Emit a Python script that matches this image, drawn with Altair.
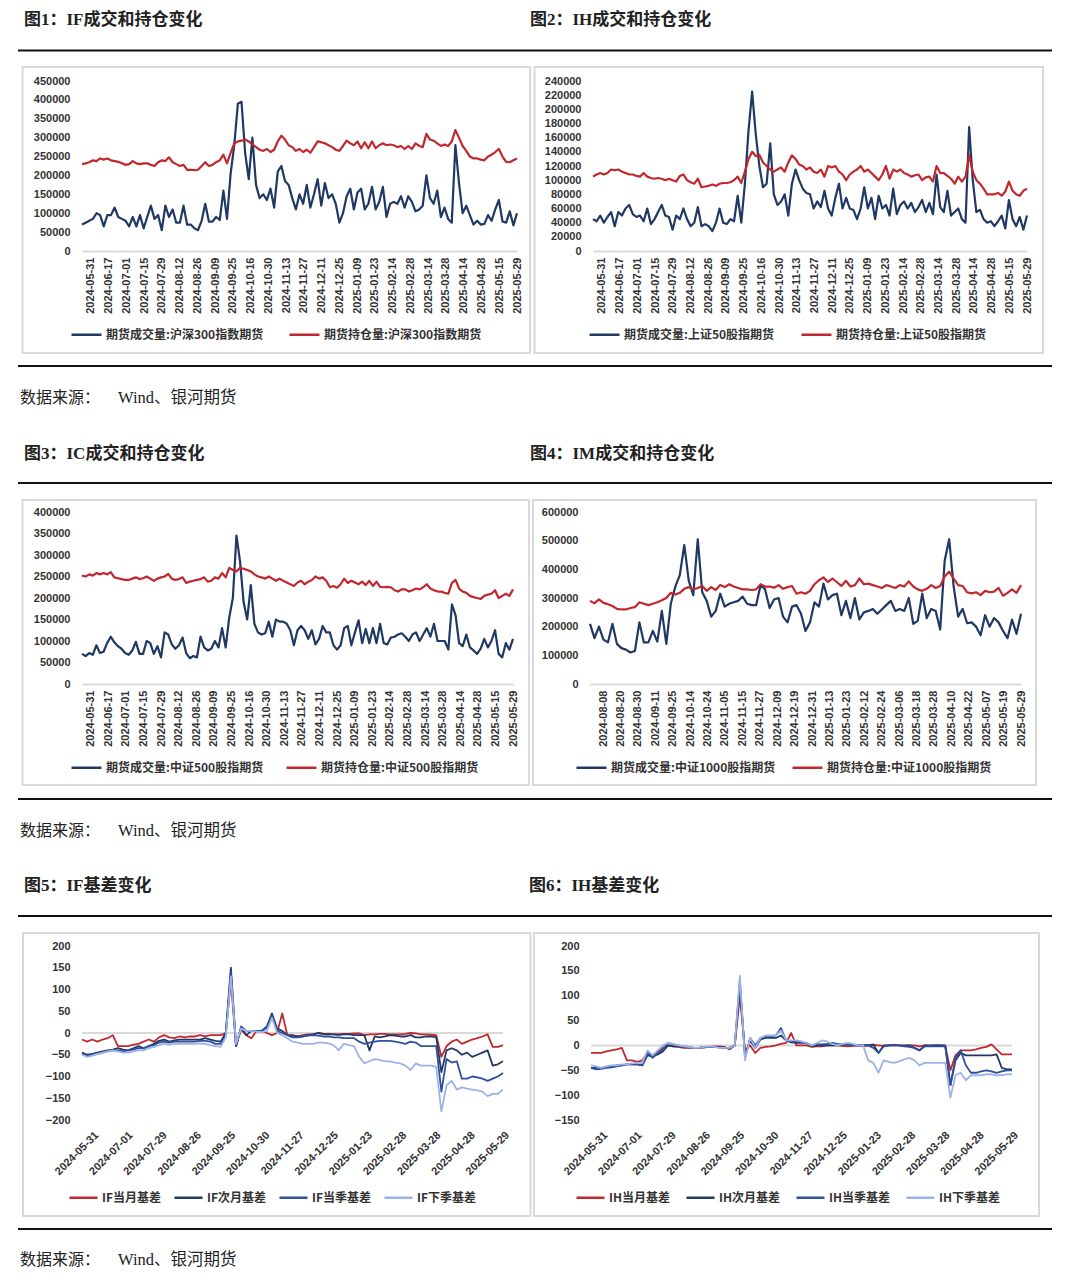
import altair as alt
import numpy as np
import pandas as pd

# ---------------- tick labels ----------------
LBL_MAIN = ["2024-05-31", "2024-06-17", "2024-07-01", "2024-07-15", "2024-07-29", "2024-08-12",
            "2024-08-26", "2024-09-09", "2024-09-25", "2024-10-16", "2024-10-30", "2024-11-13",
            "2024-11-27", "2024-12-11", "2024-12-25", "2025-01-09", "2025-01-23", "2025-02-14",
            "2025-02-28", "2025-03-14", "2025-03-28", "2025-04-14", "2025-04-28", "2025-05-15",
            "2025-05-29"]
LBL_IM = ["2024-08-08", "2024-08-20", "2024-08-30", "2024-09-11", "2024-09-25", "2024-10-14",
          "2024-10-24", "2024-11-05", "2024-11-15", "2024-11-27", "2024-12-09", "2024-12-19",
          "2024-12-31", "2025-01-13", "2025-01-23", "2025-02-12", "2025-02-24", "2025-03-06",
          "2025-03-18", "2025-03-28", "2025-04-10", "2025-04-22", "2025-05-07", "2025-05-19",
          "2025-05-29"]
LBL_BASIS = ["2024-05-31", "2024-07-01", "2024-07-29", "2024-08-26", "2024-09-25", "2024-10-30",
             "2024-11-27", "2024-12-25", "2025-01-23", "2025-02-28", "2025-03-28", "2025-04-28",
             "2025-05-29"]

# ---------------- series (thousand lots for volume / open interest) ----------------
IF_VOL = [70, 75, 80, 85, 100, 95, 65, 95, 95, 115,
          90, 85, 80, 65, 90, 65, 95, 60, 90, 120,
          85, 95, 55, 120, 90, 110, 75, 75, 120, 70,
          70, 60, 55, 80, 125, 78, 78, 90, 82, 160,
          85, 205, 280, 390, 395, 260, 190, 300, 175, 140,
          150, 135, 165, 115, 210, 225, 185, 175, 140, 110,
          150, 125, 175, 115, 150, 190, 120, 180, 140, 150,
          125, 75, 100, 145, 165, 110, 155, 165, 110, 125,
          170, 110, 130, 170, 90, 125, 130, 125, 145, 115,
          145, 130, 105, 110, 120, 200, 140, 125, 160, 90,
          115, 85, 75, 280, 180, 100, 120, 95, 70, 80,
          70, 72, 95, 80, 110, 135, 78, 75, 105, 68,
          100]
IF_OI = [230, 232, 235, 240, 238, 245, 242, 245, 240, 238,
         236, 232, 228, 230, 238, 232, 230, 232, 232, 228,
         225, 235, 240, 238, 248, 235, 230, 225, 228, 215,
         215, 214, 215, 225, 235, 225, 228, 235, 240, 255,
         232, 260, 285, 290, 292, 295, 290, 282, 275, 268,
         265, 270, 262, 268, 290, 305, 295, 280, 275, 265,
         270, 262, 268, 260, 275, 290, 288, 285, 280, 275,
         268, 265, 278, 292, 285, 280, 290, 272, 288, 272,
         290, 272, 280, 285, 280, 282, 280, 275, 278, 270,
         278, 270, 285, 278, 275, 310, 295, 292, 285, 278,
         282, 278, 290, 320, 300, 278, 265, 250, 245, 245,
         242, 240, 250, 255, 262, 270, 250, 236, 235, 240,
         245]
IH_VOL = [45, 42, 50, 40, 48, 55, 35, 55, 50, 60,
          65, 52, 48, 50, 42, 60, 38, 45, 55, 65,
          50, 48, 30, 50, 45, 60, 45, 35, 40, 62,
          35, 38, 35, 28, 40, 60, 40, 38, 45, 42,
          78, 40, 95, 170, 225, 165, 120, 90, 95, 152,
          80, 65, 70, 80, 50, 95, 115, 100, 88, 82,
          80, 60, 70, 62, 85, 60, 50, 75, 95, 60,
          75, 60, 58, 45, 60, 90, 60, 75, 45, 78,
          60, 65, 50, 88, 52, 65, 70, 60, 68, 55,
          62, 72, 55, 68, 52, 108, 62, 55, 85, 50,
          55, 60, 45, 40, 175, 100, 55, 58, 45, 40,
          42, 35, 42, 50, 32, 72, 45, 35, 48, 30,
          50]
IH_OI = [105, 108, 110, 108, 110, 115, 114, 115, 112, 110,
         108, 108, 106, 105, 110, 105, 103, 102, 103, 102,
         100, 102, 100, 98, 106, 108, 100, 97, 95, 102,
         90, 91, 92, 94, 92, 95, 96, 96, 97, 100,
         105, 96, 112, 130, 140, 134, 136, 125, 120, 115,
         112, 115, 118, 112, 125, 135, 130, 122, 120, 115,
         118, 112, 110, 115, 105, 120, 118, 120, 112, 108,
         100, 108, 112, 115, 120, 112, 115, 110, 105, 100,
         108, 120, 102, 115, 112, 115, 110, 108, 105, 107,
         108, 100, 104, 105, 98, 120, 110, 110, 106, 102,
         95, 105, 98, 105, 135, 112, 100, 95, 88, 80,
         80, 80, 82, 78, 84, 98, 85, 80, 78, 85,
         88]
IC_VOL = [70, 65, 72, 68, 90, 72, 75, 95, 110, 97,
          88, 82, 72, 68, 78, 98, 70, 70, 100, 95,
          70, 88, 62, 120, 115, 92, 82, 90, 108, 72,
          60, 65, 62, 110, 85, 78, 82, 100, 85, 130,
          85, 155, 200, 345, 285, 190, 150, 230, 140, 120,
          115, 118, 145, 110, 150, 145, 145, 140, 125, 90,
          125, 135, 125, 105, 125, 92, 105, 135, 120, 120,
          90, 80, 90, 130, 135, 90, 120, 148, 95, 128,
          95, 130, 95, 140, 95, 92, 108, 110, 115, 118,
          110, 100, 115, 120, 100, 115, 130, 110, 140, 100,
          100, 100, 80, 185, 160, 95, 88, 115, 85, 78,
          70, 82, 105, 85, 100, 125, 70, 62, 95, 80,
          105]
IC_OI = [252, 250, 255, 252, 258, 255, 258, 255, 260, 248,
         246, 244, 242, 242, 245, 248, 244, 246, 250, 245,
         240, 245, 248, 250, 256, 245, 242, 244, 248, 235,
         238, 240, 242, 244, 248, 238, 240, 248, 245, 258,
         248, 270, 265, 262, 270, 268, 265, 262, 255, 250,
         248, 245, 250, 245, 240, 245, 240, 236, 232, 228,
         236, 240, 232, 238, 242, 250, 245, 248, 240, 225,
         228, 224, 232, 245, 235, 240, 236, 232, 238, 230,
         240, 228, 238, 226, 225, 226, 225, 218, 215, 220,
         220, 215, 218, 222, 220, 225, 232, 222, 218, 215,
         215, 212, 210, 235, 242, 222, 215, 212, 205, 202,
         200, 198, 205, 208, 210, 218, 200, 205, 210, 205,
         220]
IM_VOL = [210, 160, 200, 155, 145, 210, 140, 125, 120, 110,
          115, 215, 145, 145, 185, 148, 255, 140, 280, 340,
          380, 485, 360, 310, 505, 320, 290, 235, 255, 315,
          270, 280, 285, 290, 305, 280, 275, 275, 345, 330,
          265, 295, 300, 235, 215, 270, 275, 245, 185, 215,
          285, 270, 350, 295, 310, 315, 240, 290, 230, 300,
          225, 250, 255, 262, 245, 260, 275, 290, 255, 262,
          255, 300, 210, 220, 315, 230, 262, 255, 190, 430,
          505, 340, 235, 262, 212, 215, 200, 170, 240, 200,
          230, 215, 185, 160, 225, 175, 245]
IM_OI = [290, 282, 295, 283, 278, 272, 262, 260, 260, 265,
         268, 285, 280, 275, 280, 285, 292, 300, 318, 312,
         318, 332, 338, 330, 335, 342, 325, 338, 328, 345,
         338, 348, 340, 335, 330, 330, 328, 330, 348, 340,
         340, 336, 345, 332, 338, 342, 315, 320, 315, 325,
         348, 362, 372, 356, 368, 355, 342, 360, 340, 345,
         368, 348, 350, 345, 340, 335, 345, 340, 335, 345,
         340, 358, 340, 330, 325, 332, 345, 335, 342, 375,
         392, 368, 345, 342, 320, 316, 320, 310, 325, 320,
         322, 335, 308, 318, 330, 318, 345]

IF_B1 = [-15, -20, -15, -20, -15, -12, -5, -30, -30, -30,
         -27, -25, -20, -15, -20, -10, -5, -10, -12, -8,
         -10, -8, -8, -5, -8, -5, -5, -5, 0, 120,
         -30, 8, -5, -12, 5, 5, 0, -5, 0, 45,
         -5, -5, -8, -5, -3, -3, 0, -2, -2, -3,
         -3, -2, -2, -1, -1, -5, -3, -3, -2, -2,
         -3, -3, -3, -2, 0, -1, -3, -3, -4, -5,
         -55, -30, -20, -15, -25, -20, -15, -12, -8, -3,
         -32, -32, -28]
IF_B2 = [-45, -50, -48, -45, -42, -40, -38, -35, -38, -40,
         -35, -30, -35, -30, -25, -18, -15, -20, -17, -15,
         -15, -15, -15, -15, -12, -15, -18, -20, 0, 150,
         -30, 12, -5, 5, 5, 5, 15, 45, 10, 5,
         -5, -6, -8, -8, -5, -3, 0, -2, -3, -3,
         -4, -3, -3, -5, -5, -5, -40, -8, -10, -8,
         -5, -6, -8, -8, -5, -10, -10, -8, -8, -10,
         -90, -40, -35, -40, -50, -45, -55, -50, -45, -40,
         -75, -72, -65]
IF_B3 = [-48, -52, -50, -48, -45, -42, -40, -40, -42, -40,
         -38, -35, -35, -30, -28, -22, -20, -22, -20, -20,
         -20, -20, -20, -18, -18, -20, -25, -25, -5, 140,
         -30, 15, 5, 5, 5, 5, 12, 40, 5, 0,
         -5, -10, -10, -8, -6, -5, -6, -8, -8, -10,
         -10, -12, -12, -12, -20, -25, -22, -20, -18, -18,
         -18, -20, -22, -25, -20, -22, -30, -30, -30, -30,
         -135, -60, -68, -65, -105, -105, -100, -102, -105, -110,
         -105, -100, -92]
IF_B4 = [-50, -55, -52, -48, -45, -42, -40, -42, -45, -45,
         -42, -40, -40, -35, -32, -28, -25, -27, -25, -25,
         -25, -25, -25, -24, -25, -28, -30, -32, -10, 130,
         -25, 10, 5, 5, 3, 2, 5, 35, 0, -5,
         -12, -20, -22, -25, -25, -25, -22, -22, -24, -28,
         -40, -25, -28, -30, -55, -70, -65, -60, -62, -65,
         -65, -68, -70, -75, -85, -70, -75, -75, -75, -78,
         -180, -120, -110, -130, -125, -128, -130, -132, -135, -145,
         -140, -140, -130]
IH_B1 = [-15, -15, -15, -12, -10, -8, -5, -30, -30, -33,
         -30, -15, -20, -12, -5, 0, -2, -3, -5, -5,
         -5, -5, -3, -3, -2, -2, -3, -8, 0, 100,
         -10, 0, -15, -5, -3, -2, 0, 3, 5, 25,
         0, 0, 0, -3, -2, -2, 0, 0, 0, -1,
         -2, -1, 0, -1, 0, 1, 0, -1, 0, 1,
         0, -1, 0, 0, -2, 0, -1, 0, 0, -1,
         -50, -20, -10, -10, -10, -8, -5, -3, 2, -8,
         -18, -18, -18]
IH_B2 = [-45, -45, -45, -43, -42, -40, -40, -38, -38, -38,
         -40, -20, -22, -18, -12, 0, -2, -2, -3, -4,
         -5, -5, -4, -3, -3, -4, -5, -5, 0, 120,
         -20, 10, -5, 12, 15, 15, 15, 20, 10, 6,
         5, 5, 5, -2, 0, 0, 0, 0, 0, 1,
         2, 1, 0, 0, 0, 2, -15, 0, 0, 0,
         0, 0, 0, -5, -10, 0, 0, 0, 0, 0,
         -80, -30, -15, -20, -20, -20, -20, -20, -20, -18,
         -45, -48, -48]
IH_B3 = [-45, -48, -47, -45, -44, -42, -40, -38, -38, -38,
         -40, -15, -25, -15, -8, 5, 2, 0, -2, -3,
         -5, -5, -4, -3, -3, -4, -5, -5, 0, 130,
         -25, 15, 0, 15, 18, 18, 20, 35, 10, 8,
         8, 6, 5, 0, 2, 2, 3, 5, 3, 2,
         2, 0, 0, 0, 0, -5, -15, -2, 0, 0,
         0, -2, -3, -5, -10, -2, -2, -2, -2, -2,
         -80, -25, -10, -40, -55, -55, -52, -50, -52, -55,
         -52, -50, -50]
IH_B4 = [-40, -42, -45, -42, -40, -40, -38, -38, -36, -35,
         -35, -10, -20, -10, 0, 5, 3, 0, -2, -3,
         -5, -5, -3, -2, -3, -5, -5, -5, 0, 140,
         -30, 15, -5, 15, 20, 20, 20, 30, 10, 10,
         10, 8, 5, 0, 5, 10, 8, 3, 0, 3,
         5, 3, 0, 0, -30, -35, -55, -30, -33, -35,
         -32, -28, -25, -30, -40, -35, -35, -35, -35, -35,
         -105, -60, -55, -70, -60, -60, -60, -58, -58, -60,
         -60, -58, -58]

NAMES_IF = ["期货成交量:沪深300指数期货", "期货持仓量:沪深300指数期货"]
NAMES_IH = ["期货成交量:上证50股指期货", "期货持仓量:上证50股指期货"]
NAMES_IC = ["期货成交量:中证500股指期货", "期货持仓量:中证500股指期货"]
NAMES_IM = ["期货成交量:中证1000股指期货", "期货持仓量:中证1000股指期货"]
NAMES_IFB = ["IF当月基差", "IF次月基差", "IF当季基差", "IF下季基差"]
NAMES_IHB = ["IH当月基差", "IH次月基差", "IH当季基差", "IH下季基差"]

NAVY = "#203864"
RED = "#C0282D"
MID = "#2F4F9F"
LIGHT = "#9DB3E8"
GREY = "#D9D9D9"
AX_FONT = "Liberation Sans"
CJK = "Noto Sans CJK SC"
HEAD_FONT = "Liberation Serif, Noto Sans CJK SC"
OX = 82  # page x of the common origin of every row (left plot area edge)


def one():
    return pd.DataFrame({"k": [0]})


def panel(names, series, colors, mult, span, lbls, loff, lstep, angle, ydom, ystep,
          plot, frame, box, leg, colpad, sw, symlen, basis):
    px0, py0, px1, py1 = plot
    W, H = px1 - px0, py1 - py0
    recs = []
    for nm, vals in zip(names, series):
        xs = np.linspace(0, span, len(vals))
        for x, v in zip(xs, vals):
            recs.append({"i": round(float(x), 3), "v": v * mult, "s": nm})
    df = pd.DataFrame(recs)
    arr = "[" + ",".join("'%s'" % d for d in lbls) + "]"
    expr = "%s[round((datum.value - %s) / %s)]" % (arr, loff, lstep)
    tick_vals = [loff + lstep * k for k in range(len(lbls))]
    xaxis = alt.Axis(title=None, values=tick_vals, labelExpr=expr, labelAngle=angle,
                     labelAlign="right", labelBaseline=("middle" if angle == -90 else "top"),
                     labelFont=AX_FONT, labelFontSize=11, labelFontWeight="bold",
                     labelColor="#333333", labelPadding=(6 if angle == -90 else 9),
                     ticks=False, grid=False, domain=not basis, domainColor=GREY,
                     domainWidth=2, labelOverlap=False, labelFlush=False, labelBound=False)
    yaxis = alt.Axis(title=None, values=list(range(ydom[0], ydom[1] + 1, ystep)), format="d",
                     labelFont=AX_FONT, labelFontSize=11, labelFontWeight="bold",
                     labelColor="#333333", labelPadding=12, ticks=False, domain=False,
                     grid=False, labelOverlap=False, labelFlush=False)
    yscale = alt.Scale(domain=list(ydom), nice=False, zero=False)
    legend = alt.Legend(title=None, orient="none", legendX=leg[0], legendY=leg[1],
                        direction="horizontal", symbolType="stroke", symbolSize=symlen * symlen,
                        symbolStrokeWidth=2.5, labelFont=CJK, labelFontSize=12,
                        labelFontWeight="bold", labelColor="#333333", labelLimit=400,
                        labelOffset=3, columnPadding=colpad, padding=0)
    lines = alt.Chart(df).mark_line(strokeWidth=sw, strokeJoin="round").encode(
        x=alt.X("i:Q", scale=alt.Scale(domain=[0, span], nice=False, zero=False), axis=xaxis),
        y=alt.Y("v:Q", scale=yscale, axis=yaxis),
        color=alt.Color("s:N", scale=alt.Scale(domain=names, range=colors), legend=legend,
                        sort=names),
    )
    fx0, fy0, fx1, fy1 = frame
    bx0, by0, bx1, by1 = box
    frm = alt.Chart(one()).mark_rect(opacity=0).encode(
        x=alt.value(fx0 - px0), x2=alt.value(fx1 - px0),
        y=alt.value(fy0 - py0), y2=alt.value(fy1 - py0))
    bx = alt.Chart(one()).mark_rect(fillOpacity=0, stroke=GREY, strokeWidth=2).encode(
        x=alt.value(bx0 - px0), x2=alt.value(bx1 - px0),
        y=alt.value(by0 - py0), y2=alt.value(by1 - py0))
    layers = [frm, bx]
    if basis:
        zero = alt.Chart(one()).mark_rule(color=GREY, strokeWidth=2).encode(
            x=alt.value(0), x2=alt.value(W), y=alt.YDatum(0, axis=yaxis, scale=yscale))
        layers.append(zero)
    layers.append(lines)
    return alt.layer(*layers).properties(width=W, height=H)


def txt(t, x, y, size, weight="normal", font=HEAD_FONT, color="#222222"):
    # x is given in page pixels and shifted onto the common row origin
    return alt.Chart(one()).mark_text(text=t, align="left", baseline="middle", font=font,
                                      fontSize=size, fontWeight=weight, color=color).encode(
        x=alt.value(x - OX), y=alt.value(y))


def rule(y):
    return alt.Chart(one()).mark_rule(color="#111111", strokeWidth=2).encode(
        x=alt.value(18 - OX), x2=alt.value(1052 - OX), y=alt.value(y))


def block(h, layers):
    return alt.layer(*layers).properties(width=1052 - OX, height=h)


def source(y):
    return [txt("数据来源：", 20, y, 16), txt("Wind、银河期货", 118, y, 16.5)]


def indep(c):
    return c.resolve_scale(color="independent", x="independent", y="independent").resolve_legend(
        color="independent").resolve_axis(x="independent", y="independent")


T1 = block(57, [txt("图1：IF成交和持仓变化", 24, 12, 17, "bold"),
                txt("图2：IH成交和持仓变化", 530, 12, 17, "bold"), rule(42.5)])
T2 = block(139, [rule(8)] + source(40) + [txt("图3：IC成交和持仓变化", 24, 96, 17, "bold"),
                                          txt("图4：IM成交和持仓变化", 530, 96, 17, "bold"), rule(125)])
T3 = block(140, [rule(9)] + source(41) + [txt("图5：IF基差变化", 24, 96, 17, "bold"),
                                          txt("图6：IH基差变化", 529, 96, 17, "bold"), rule(126)])
T4 = block(57, [rule(7)] + source(38))

P1 = panel(NAMES_IF, [IF_VOL, IF_OI], [NAVY, RED], 1000, 245, LBL_MAIN, 5, 10, -90,
           (0, 450000), 50000, (82, 81, 517, 251), (8, 65, 532, 358), (22.5, 67, 530, 353),
           (-12, 237), 20, 2.2, 30, False)
P2 = panel(NAMES_IH, [IH_VOL, IH_OI], [NAVY, RED], 1000, 245, LBL_MAIN, 5, 10, -90,
           (0, 240000), 20000, (593, 81, 1027, 251), (532, 65, 1052, 358), (534.5, 67, 1043, 353),
           (-5, 237), 21, 2.2, 30, False)
P3 = panel(NAMES_IC, [IC_VOL, IC_OI], [NAVY, RED], 1000, 245, LBL_MAIN, 5, 10, -90,
           (0, 400000), 50000, (82, 512, 513, 684), (8, 497, 532, 790), (22.5, 500, 529, 785),
           (-12, 239), 17, 2.2, 30, False)
P4 = panel(NAMES_IM, [IM_VOL, IM_OI], [NAVY, RED], 1000, 198, LBL_IM, 6, 8, -90,
           (0, 600000), 100000, (590, 512, 1021, 684), (532, 497, 1052, 790), (533, 500, 1036, 785),
           (-15, 239), 11, 2.2, 30, False)
P5 = panel(NAMES_IFB, [IF_B1, IF_B2, IF_B3, IF_B4], [RED, NAVY, MID, LIGHT], 1, 246, LBL_BASIS, 6, 20, -45,
           (-200, 200), 50, (82, 946, 503, 1120), (8, 930, 532, 1222), (23, 933, 530.5, 1216),
           (-14, 236), 8, 1.8, 28, True)
P6 = panel(NAMES_IHB, [IH_B1, IH_B2, IH_B3, IH_B4], [RED, NAVY, MID, LIGHT], 1, 246, LBL_BASIS, 6, 20, -45,
           (-150, 200), 50, (591, 946, 1012, 1120), (532, 930, 1052, 1222), (534, 933, 1039, 1216),
           (-16, 236), 10, 1.8, 28, True)

row1 = indep(alt.hconcat(P1, P2, spacing=0))
row2 = indep(alt.hconcat(P3, P4, spacing=0))
row3 = indep(alt.hconcat(P5, P6, spacing=0))

chart = indep(alt.vconcat(T1, row1, T2, row2, T3, row3, T4, spacing=0)).configure_view(
    stroke=None).properties(padding=0, background="white")

chart.save("out.html", embed_options={"renderer": "svg", "actions": False})
